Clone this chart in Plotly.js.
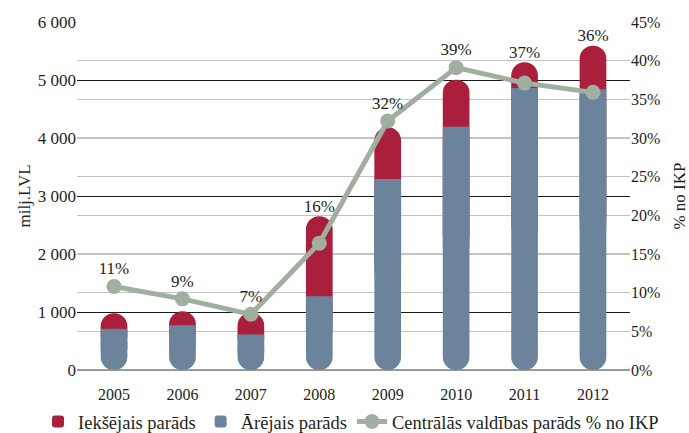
<!DOCTYPE html>
<html>
<head>
<meta charset="utf-8">
<script src="https://cdn.plot.ly/plotly-3.0.1.min.js"></script>
<style>html,body{margin:0;padding:0;background:#fff;}#chart{width:689px;height:433px;}</style>
</head>
<body>
<div id="chart"></div>
<script>
const years = ['2005','2006','2007','2008','2009','2010','2011','2012'];
// milj. LVL
const externalDebt = [710, 772, 612, 1272, 3295, 4196, 4860, 4840];   // Ārējais parāds
const totalDebt    = [980, 1013, 986, 2650, 4184, 5006, 5304, 5592]; // kopā (top of bars)
// % no IKP
const debtPctGDP = [10.8, 9.2, 7.2, 16.4, 32.2, 39.1, 37.1, 35.9];
const pctLabels = ['11%', '9%', '7%', '16%', '32%', '39%', '37%', '36%'];

const FONT = '"Liberation Serif", "DejaVu Serif", serif';
const RED = '#A91F3C';
const BLUE = '#6B849B';
const GREEN = '#A0AF9F';
const BARW = 0.39;
const Y1MAX = 6000, Y2MAX = 45;

// label anchor (in % axis units): above the marker or above the bar top, whichever is higher
const labelY = debtPctGDP.map((p, i) =>
  Math.max(p + 2.13, totalDebt[i] * Y2MAX / Y1MAX + 1.15));

const data = [
  // Iekšējais parāds: pill up to the total; lower part is covered by the external part
  {
    type: 'bar', name: 'Iekšējais parāds', x: years,
    base: externalDebt.map(v => v / 2), y: totalDebt.map((t, i) => t - externalDebt[i] / 2),
    width: BARW, marker: {color: RED, cornerradius: '50%'},
    hoverinfo: 'skip'
  },
  // Ārējais parāds: rounded pill from 0 ...
  {
    type: 'bar', name: 'Ārējais parāds', x: years,
    base: years.map(() => 0), y: externalDebt,
    width: BARW, marker: {color: BLUE, cornerradius: '50%'},
    hoverinfo: 'skip'
  },
  // ... with a flat top edge at the boundary
  {
    type: 'bar', name: 'Ārējais parāds', x: years, showlegend: false,
    base: externalDebt.map(v => v / 2), y: externalDebt.map(v => v / 2),
    width: BARW, marker: {color: BLUE, cornerradius: 0},
    hoverinfo: 'skip'
  },
  {
    type: 'scatter', mode: 'lines+markers', name: 'Centrālās valdības parāds % no IKP',
    x: years, y: debtPctGDP, yaxis: 'y2',
    line: {color: GREEN, width: 5},
    marker: {color: GREEN, size: 15},
    hoverinfo: 'skip'
  },
  {
    type: 'scatter', mode: 'text', showlegend: false,
    x: years, y: labelY, yaxis: 'y2',
    text: pctLabels, textposition: 'middle center',
    textfont: {family: FONT, size: 17, color: '#231f20'},
    cliponaxis: false, hoverinfo: 'skip'
  }
];

const layout = {
  width: 689, height: 433,
  margin: {l: 77, r: 59, t: 22, b: 62.5, autoexpand: false},
  paper_bgcolor: '#fff', plot_bgcolor: '#fff',
  font: {family: FONT, size: 16, color: '#231f20'},
  separators: ', ',
  barmode: 'overlay',
  showlegend: true,
  legend: {
    orientation: 'h', x: -0.0705, xanchor: 'left', y: -0.204, yanchor: 'bottom',
    font: {family: FONT, size: 18.5, color: '#231f20'},
    traceorder: 'normal', itemwidth: 30
  },
  xaxis: {
    type: 'category', tickfont: {size: 16},
    ticks: 'outside', ticklen: 10, tickcolor: 'rgba(0,0,0,0)',
    showgrid: false, showline: false, zeroline: false, fixedrange: true
  },
  yaxis: {
    range: [0, Y1MAX], dtick: 1000, separatethousands: true,
    gridcolor: '#1a1a1a', gridwidth: 1,
    zeroline: true, zerolinecolor: '#999', zerolinewidth: 1.5,
    showline: false, ticks: '', tickfont: {size: 17},
    title: {text: 'milj.LVL', font: {size: 17}, standoff: 2},
    fixedrange: true
  },
  yaxis2: {
    overlaying: 'y', side: 'right',
    range: [0, Y2MAX], dtick: 5, ticksuffix: '%',
    gridcolor: '#c4c4c4', gridwidth: 1.2,
    zeroline: false, showline: false, ticks: '', tickfont: {size: 16},
    title: {text: '% no IKP', font: {size: 17}, standoff: 13},
    fixedrange: true
  }
};

Plotly.newPlot('chart', data, layout, {displayModeBar: false, staticPlot: true});
</script>
</body>
</html>
